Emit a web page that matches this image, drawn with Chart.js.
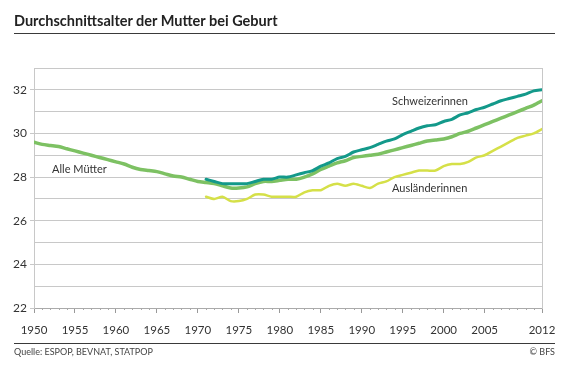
<!DOCTYPE html>
<html lang="de">
<head>
<meta charset="utf-8">
<title>Durchschnittsalter der Mutter bei Geburt</title>
<script src="https://cdn.jsdelivr.net/npm/chart.js@4/dist/chart.umd.min.js"></script>
<style>
    html, body { margin: 0; padding: 0; background: #fff; }
    #page { position: relative; width: 582px; height: 379px; font-family: Lato, "Open Sans", sans-serif; color: #333; }
    #page canvas { position: absolute; left: 0; top: 0; }
    .title { position: absolute; left: 14px; top: 12px; font-size: 14.5px; font-weight: bold; color: #222; white-space: nowrap; }
    .rule { position: absolute; left: 14px; width: 541px; height: 0; border-top: 1.5px solid #3a3a3a; }
    .foot { position: absolute; top: 346px; font-size: 9px; color: #444; white-space: nowrap; }
</style>
</head>
<body>
<div id="page">
    <canvas id="chart" width="582" height="379"></canvas>
    <div class="title">Durchschnittsalter der Mutter bei Geburt</div>
    <div class="rule" style="top:33px"></div>
    <div class="rule" style="top:343px"></div>
    <div class="foot" style="left:14px">Quelle: ESPOP, BEVNAT, STATPOP</div>
    <div class="foot" style="right:27px">© BFS</div>
</div>
<script>
// ── Data ──
const years = [
    1950, 1951, 1952, 1953, 1954, 1955, 1956, 1957, 1958, 1959,
    1960, 1961, 1962, 1963, 1964, 1965, 1966, 1967, 1968, 1969,
    1970, 1971, 1972, 1973, 1974, 1975, 1976, 1977, 1978, 1979,
    1980, 1981, 1982, 1983, 1984, 1985, 1986, 1987, 1988, 1989,
    1990, 1991, 1992, 1993, 1994, 1995, 1996, 1997, 1998, 1999,
    2000, 2001, 2002, 2003, 2004, 2005, 2006, 2007, 2008, 2009,
    2010, 2011, 2012
];
// Alle Mütter, 1950–2012
const alleMuetter = [
    29.6, 29.5, 29.45, 29.4, 29.3, 29.2, 29.1, 29.0, 28.9, 28.8,
    28.7, 28.6, 28.45, 28.35, 28.3, 28.25, 28.15, 28.05, 28.0, 27.9,
    27.8, 27.75, 27.7, 27.6, 27.5, 27.5, 27.55, 27.7, 27.8, 27.8,
    27.85, 27.9, 27.9, 28.0, 28.15, 28.35, 28.5, 28.65, 28.75, 28.9,
    28.95, 29.0, 29.05, 29.15, 29.25, 29.35, 29.45, 29.55, 29.65, 29.7,
    29.75, 29.85, 30.0, 30.1, 30.25, 30.4, 30.55, 30.7, 30.85, 31.0,
    31.15, 31.3, 31.5
];
// Schweizerinnen, 1971–2012
const schweizerinnen = [
    27.9, 27.8, 27.7, 27.7, 27.7, 27.7, 27.8, 27.9, 27.9,
    28.0, 28.0, 28.1, 28.2, 28.3, 28.5, 28.65, 28.85, 28.95, 29.15,
    29.25, 29.35, 29.5, 29.65, 29.75, 29.95, 30.1, 30.25, 30.35, 30.4,
    30.55, 30.65, 30.85, 30.95, 31.1, 31.2, 31.35, 31.5, 31.6, 31.7,
    31.8, 31.95, 32.0
];
// Ausländerinnen, 1971–2012
const auslaenderinnen = [
    27.1, 27.0, 27.1, 26.9, 26.9, 27.0, 27.2, 27.2, 27.1,
    27.1, 27.1, 27.1, 27.3, 27.4, 27.4, 27.6, 27.7, 27.6, 27.7,
    27.6, 27.5, 27.7, 27.8, 28.0, 28.1, 28.2, 28.3, 28.3, 28.3,
    28.5, 28.6, 28.6, 28.7, 28.9, 29.0, 29.2, 29.4, 29.6, 29.8,
    29.9, 30.0, 30.2
];
const xLabels = [1950, 1955, 1960, 1965, 1970, 1975, 1980, 1985, 1990, 1995, 2000, 2005, 2012];

// Line labels inside the plot (data coordinates)
const labelTexts = ['Alle Mütter', 'Schweizerinnen', 'Ausländerinnen'];
const labelYears = [1952.2, 1993.7, 1993.7];
const labelValues = [28.33, 31.46, 27.46];

const foreignYears = years.slice(years.indexOf(1971));
const toPoints = (xs, ys) => ys.map((v, i) => ({ x: xs[i], y: v }));

const GRID = '#c8c8c8';
const TEXT = '#333';

// ── Plugins ──
const minorTicks = {
    id: 'minorTicks',
    afterDraw(chart) {
        const sx = chart.scales.x;
        const c = chart.ctx;
        c.save();
        c.strokeStyle = '#aaa';
        c.lineWidth = 1;
        years.forEach(y => {
            if (xLabels.includes(y)) return;
            const px = Math.round(sx.getPixelForValue(y)) + 0.5;
            c.beginPath();
            c.moveTo(px, sx.top);
            c.lineTo(px, sx.top + 2);
            c.stroke();
        });
        c.restore();
    }
};

const lineLabels = {
    id: 'lineLabels',
    afterDatasetsDraw(chart) {
        const { x: sx, y: sy } = chart.scales;
        const c = chart.ctx;
        c.save();
        c.font = '11px Lato, "Open Sans", sans-serif';
        c.fillStyle = TEXT;
        c.textBaseline = 'middle';
        c.textAlign = 'left';
        labelTexts.forEach((t, i) => {
            c.fillText(t, sx.getPixelForValue(labelYears[i]), sy.getPixelForValue(labelValues[i]));
        });
        c.restore();
    }
};

new Chart(document.getElementById('chart'), {
    type: 'line',
    data: {
        datasets: [
            {
                label: 'Schweizerinnen',
                data: toPoints(foreignYears, schweizerinnen),
                borderColor: '#13998a',
                borderWidth: 3
            },
            {
                label: 'Alle Mütter',
                data: toPoints(years, alleMuetter),
                borderColor: '#7dc163',
                borderWidth: 3.5
            },
            {
                label: 'Ausländerinnen',
                data: toPoints(foreignYears, auslaenderinnen),
                borderColor: '#d5e048',
                borderWidth: 2.5
            }
        ]
    },
    options: {
        responsive: false,
        animation: false,
        events: [],
        elements: {
            point: { radius: 0 },
            line: { tension: 0.25, borderCapStyle: 'round', borderJoinStyle: 'round', fill: false }
        },
        layout: { padding: { top: 68, right: 40, bottom: 31, left: 0 } },
        plugins: { legend: { display: false }, tooltip: { enabled: false }, title: { display: false } },
        scales: {
            x: {
                type: 'linear',
                min: 1950,
                max: 2012,
                afterBuildTicks: (scale) => { scale.ticks = years.map(v => ({ value: v })); },
                afterFit: (scale) => { scale.height = 40; },
                grid: {
                    drawOnChartArea: false,
                    tickLength: 5,
                    tickColor: (ctx) => (ctx.tick && xLabels.includes(ctx.tick.value)) ? '#999' : 'rgba(0,0,0,0)'
                },
                border: { color: '#aaa' },
                ticks: {
                    autoSkip: false,
                    maxRotation: 0,
                    padding: 10,
                    color: TEXT,
                    font: { family: 'Lato, "Open Sans", sans-serif', size: 11.5 },
                    callback: (v) => xLabels.includes(v) ? String(v) : ''
                }
            },
            y: {
                min: 22,
                max: 33,
                afterFit: (scale) => { scale.width = 34; },
                grid: {
                    color: GRID,
                    tickLength: 4,
                    tickColor: (ctx) => (ctx.tick && ctx.tick.value % 2 === 0) ? GRID : 'rgba(0,0,0,0)'
                },
                border: { color: GRID },
                ticks: {
                    stepSize: 1,
                    padding: 3,
                    color: TEXT,
                    font: { family: 'Lato, "Open Sans", sans-serif', size: 12 },
                    callback: (v) => (v % 2 === 0 && v < 33) ? String(v) : ''
                }
            },
            y2: {
                position: 'right',
                min: 22,
                max: 33,
                afterFit: (scale) => { scale.width = 0; },
                grid: { drawOnChartArea: false, drawTicks: false },
                border: { color: GRID },
                ticks: { display: false }
            }
        }
    },
    plugins: [minorTicks, lineLabels]
});
</script>
</body>
</html>
